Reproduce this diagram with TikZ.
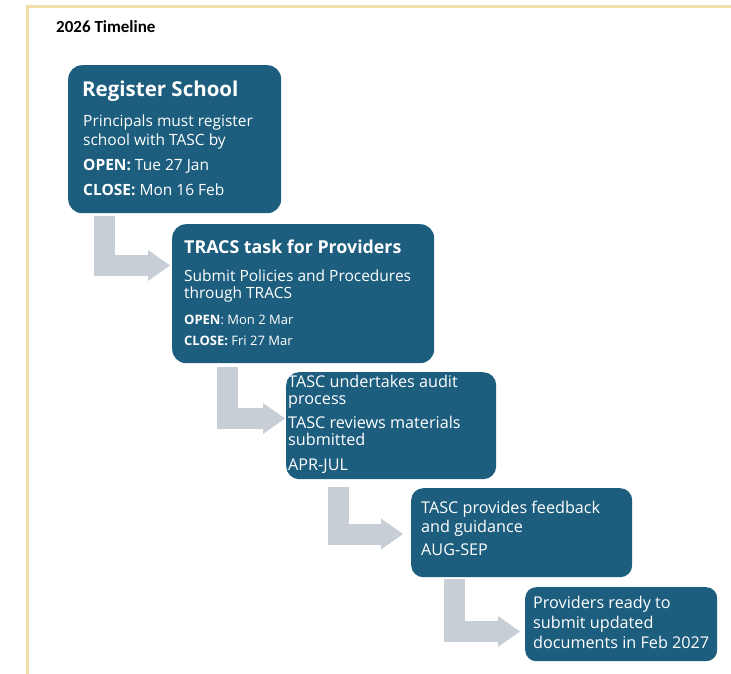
\documentclass[tikz,border=0pt]{standalone}
\usepackage{fontspec}
\setmainfont{Open Sans}
\newfontfamily\hdfont{Carlito}
\usetikzlibrary{arrows.meta}
\definecolor{boxblue}{RGB}{29,94,126}
\definecolor{arrgrey}{RGB}{200,206,213}
\definecolor{framebeige}{RGB}{240,222,168}
\tikzset{
  box/.style={fill=boxblue, draw=none, rounded corners=14pt, anchor=north west, inner sep=0pt},
  ln/.style={anchor=base west, inner sep=0pt, text=white, font=\fontsize{15.5}{18}\selectfont},
  lnb/.style={ln, font=\fontsize{16.2}{18}\selectfont},
  ttl/.style={ln, font=\fontsize{17.8}{20}\selectfont\bfseries},
  sml/.style={ln, font=\fontsize{13}{15}\selectfont},
  arr/.style={draw=arrgrey, line width=21pt, line join=miter,
    -{Triangle[width=31pt 0 0,length=22pt 0 0,line width=0pt]}}
}
\begin{document}
\begin{tikzpicture}[x=1pt,y=-1pt]
\useasboundingbox (0,0) rectangle (731,674);
% frame
\fill[framebeige] (25.5,5.5) rectangle (731,8.5);
\fill[framebeige] (25.5,5.5) rectangle (28.5,674);
\node[anchor=base west, inner sep=0pt, font=\hdfont\fontsize{17}{19}\selectfont\bfseries] (hd) at (56,33) {2026 Timeline};
% boxes
\node[box, minimum width=213pt, minimum height=148pt] (b1) at (68,65) {};
\node[box, minimum width=262pt, minimum height=139pt] (b2) at (172,224) {};
\node[box, minimum width=210pt, minimum height=107pt, rounded corners=13pt] (b3) at (286,372) {};
\node[box, minimum width=221pt, minimum height=89pt, rounded corners=12pt] (b4) at (411,488) {};
\node[box, minimum width=192pt, minimum height=74pt, rounded corners=11pt] (b5) at (525,587) {};
% box 1 text
\node[ttl, font=\fontsize{20.5}{22}\selectfont\bfseries] (t1a) at (82,97) {Register School};
\node[ln] (t1b) at (83,127) {Principals must register};
\node[ln] (t1c) at (83,146) {school with TASC by};
\node[ln] (t1d) at (83,171) {\textbf{OPEN:} Tue 27 Jan};
\node[ln] (t1e) at (83,195) {\textbf{CLOSE:} Mon 16 Feb};
% box 2 text
\node[ttl] (t2a) at (184,253) {TRACS task for Providers};
\node[ln] (t2b) at (184,281) {Submit Policies and Procedures};
\node[ln] (t2c) at (184,298) {through TRACS};
\node[sml] (t2d) at (184,324) {\textbf{OPEN}: Mon 2 Mar};
\node[sml] (t2e) at (184,345) {\textbf{CLOSE:} Fri 27 Mar};
% box 3 text
\node[lnb] (t3a) at (288,387) {TASC undertakes audit};
\node[lnb] (t3b) at (288,404) {process};
\node[lnb] (t3c) at (288,428) {TASC reviews materials};
\node[lnb] (t3d) at (288,445) {submitted};
\node[lnb] (t3e) at (288,470) {APR-JUL};
% box 4 text
\node[lnb] (t4a) at (421,513) {TASC provides feedback};
\node[lnb] (t4b) at (421,532) {and guidance};
\node[lnb] (t4c) at (421,555) {AUG-SEP};
% box 5 text
\node[lnb] (t5a) at (533,608) {Providers ready to};
\node[lnb] (t5b) at (533,628) {submit updated};
\node[lnb] (t5c) at (533,648) {documents in Feb 2027};
% arrows
\draw[arr] ([shift={(36.5,3)}]b1.south west) |- ([shift={(-2,41.5)}]b2.north west);
\draw[arr] ([shift={(55,4)}]b2.south west) |- ([shift={(-1,46.5)}]b3.north west);
\draw[arr] ([shift={(52,8)}]b3.south west) |- ([shift={(-8,46)}]b4.north west);
\draw[arr] ([shift={(43,2)}]b4.south west) |- ([shift={(-5,44.5)}]b5.north west);
\end{tikzpicture}
\end{document}
